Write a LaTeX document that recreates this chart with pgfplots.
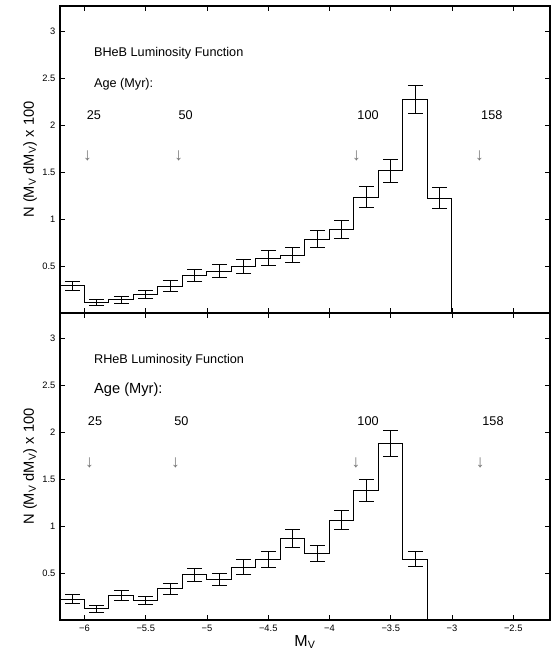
\documentclass[border=0pt]{standalone}
\usepackage{fontspec}
\setmainfont{Liberation Sans}
\usepackage{pgfplots}
\usepackage{pgfplotstable}
\pgfplotsset{compat=1.18}

% BHeB luminosity function: bin left edge, bin centre, N, error
\pgfplotstableread{
left mid n err
-6.2 -6.1 0.290 0.050
-6.0 -5.9 0.113 0.035
-5.8 -5.7 0.140 0.037
-5.6 -5.5 0.195 0.043
-5.4 -5.3 0.287 0.055
-5.2 -5.1 0.397 0.064
-5.0 -4.9 0.447 0.066
-4.8 -4.7 0.496 0.071
-4.6 -4.5 0.585 0.076
-4.4 -4.3 0.613 0.080
-4.2 -4.1 0.787 0.089
-4.0 -3.9 0.886 0.094
-3.8 -3.7 1.234 0.112
-3.6 -3.5 1.517 0.122
-3.4 -3.3 2.269 0.149
-3.2 -3.1 1.223 0.112
-3.0 nan  0     0
}\bheb

% RHeB luminosity function
\pgfplotstableread{
left mid n err
-6.2 -6.1 0.223 0.050
-6.0 -5.9 0.120 0.035
-5.8 -5.7 0.262 0.051
-5.6 -5.5 0.209 0.046
-5.4 -5.3 0.333 0.059
-5.2 -5.1 0.482 0.069
-5.0 -4.9 0.433 0.067
-4.8 -4.7 0.564 0.078
-4.6 -4.5 0.645 0.082
-4.4 -4.3 0.865 0.094
-4.2 -4.1 0.709 0.083
-4.0 -3.9 1.064 0.103
-3.8 -3.7 1.376 0.117
-3.6 -3.5 1.879 0.137
-3.4 -3.3 0.649 0.082
-3.2 nan  0     0
}\rheb

\pgfplotsset{
  lf/.style={
    width=367.5pt, height=230.25pt, scale only axis,
    xmin=-6.2, xmax=-2.2, ymin=0, ymax=3.27,
    xtick={-6,-5.5,-5,-4.5,-4,-3.5,-3,-2.5},
    ytick={0.5,1,1.5,2,2.5,3},
    yticklabels={0.5,1,1.5,2,2.5,3},
    tick pos=both, tick align=inside, major tick length=3.5pt,
    tick style={black, line width=0.6pt},
    axis line style={line width=1pt},
    ticklabel style={font=\fontsize{7}{8}\selectfont},
    ylabel={N (M\textsubscript{V} dM\textsubscript{V}) x 100},
    every axis y label/.style={at={(axis description cs:0,0.5)}, xshift=-22.5pt,
      rotate=90, anchor=center, font=\fontsize{11}{13}\selectfont},
  },
  lfstep/.style={black, line width=0.75pt, const plot, mark=none},
  lfbars/.style={black, only marks, mark=*, mark size=0pt,
    error bars/.cd, y dir=both, y explicit,
    error bar style={line width=0.75pt},
    error mark options={black, line width=0.75pt, mark size=5.6pt, rotate=90}},
}
\tikzset{
  lbl/.style={anchor=west, font=\fontsize{9.5}{11}\selectfont},
  arr/.style={anchor=center, text=black!55, font=\fontsize{13}{14}\selectfont},
}

\begin{document}
\begin{tikzpicture}
\useasboundingbox (-45pt,-23.25pt) rectangle (368.25pt,465pt);

\begin{axis}[lf, at={(0,230.25pt)}, anchor=south west, xticklabels={}]
  \addplot[lfstep] table[x=left, y=n] {\bheb};
  \addplot[lfbars] table[x=mid, y=n, y error=err] {\bheb};
  \node[lbl] at (axis cs:-5.96,2.77) {BHeB Luminosity Function};
  \node[lbl] at (axis cs:-5.96,2.44) {Age (Myr):};
  \node[lbl] at (axis cs:-6.02,2.11) {25};
  \node[lbl] at (axis cs:-5.27,2.11) {50};
  \node[lbl] at (axis cs:-3.81,2.11) {100};
  \node[lbl] at (axis cs:-2.80,2.11) {158};
  \node[arr] at (axis cs:-5.975,1.67) {↓};
  \node[arr] at (axis cs:-5.23,1.67) {↓};
  \node[arr] at (axis cs:-3.78,1.67) {↓};
  \node[arr] at (axis cs:-2.775,1.67) {↓};
\end{axis}

\begin{axis}[lf, at={(0,0)}, anchor=south west,
    xticklabels={−6,−5.5,−5,−4.5,−4,−3.5,−3,−2.5},
    xlabel={M\textsubscript{V}},
    every axis x label/.style={at={(axis description cs:0.5,0)}, yshift=-16.5pt,
      anchor=center, font=\fontsize{12}{14}\selectfont}]
  \addplot[lfstep] table[x=left, y=n] {\rheb};
  \addplot[lfbars] table[x=mid, y=n, y error=err] {\rheb};
  \node[lbl] at (axis cs:-5.96,2.77) {RHeB Luminosity Function};
  \node[lbl, font=\fontsize{11}{13}\selectfont] at (axis cs:-5.96,2.45) {Age (Myr):};
  \node[lbl] at (axis cs:-6.01,2.12) {25};
  \node[lbl] at (axis cs:-5.305,2.12) {50};
  \node[lbl] at (axis cs:-3.81,2.12) {100};
  \node[lbl] at (axis cs:-2.79,2.12) {158};
  \node[arr] at (axis cs:-5.96,1.67) {↓};
  \node[arr] at (axis cs:-5.257,1.67) {↓};
  \node[arr] at (axis cs:-3.785,1.67) {↓};
  \node[arr] at (axis cs:-2.77,1.67) {↓};
\end{axis}
\end{tikzpicture}
\end{document}
